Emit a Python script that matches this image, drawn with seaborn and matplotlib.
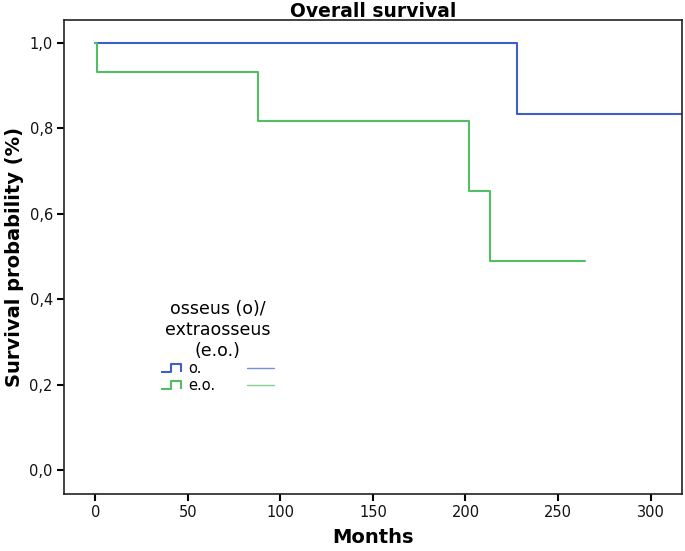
import numpy as np
import pandas as pd
import matplotlib
matplotlib.use("Agg")
import matplotlib.pyplot as plt
from matplotlib.lines import Line2D
from matplotlib.path import Path
import seaborn as sns

# Kaplan-Meier steps
months_o = [0, 228, 317]
surv_o = [1.0, 0.833, 0.833]
months_eo = [0, 1, 88, 202, 213, 264.5]
surv_eo = [1.0, 0.933, 0.817, 0.654, 0.49, 0.49]

groups = ['o.', 'e.o.']
colors = {'o.': '#3f5fc8', 'e.o.': '#52bd62'}
xticks = [0, 50, 100, 150, 200, 250, 300]
yticks = [0.0, 0.2, 0.4, 0.6, 0.8, 1.0]

df = pd.concat([
    pd.DataFrame({'months': months_o, 'surv': surv_o, 'group': 'o.'}),
    pd.DataFrame({'months': months_eo, 'surv': surv_eo, 'group': 'e.o.'}),
], ignore_index=True)

sns.set_style('white')
plt.rcParams['font.family'] = ['DejaVu Sans']
plt.rcParams['text.color'] = 'black'

fig = plt.figure(figsize=(6.85, 5.51), dpi=100)
ax = fig.add_axes([0.0934, 0.1034, 0.9022, 0.8603])

sns.lineplot(data=df, x='months', y='surv', hue='group', palette=colors,
             drawstyle='steps-post', estimator=None, sort=False,
             linewidth=1.5, legend=False, ax=ax)

ax.set_xlim(-17, 317)
ax.set_ylim(-0.056, 1.054)
ax.set_xticks(xticks)
ax.set_yticks(yticks)
ax.set_yticklabels([f'{v:.1f}'.replace('.', ',') for v in yticks])
ax.tick_params(axis='both', direction='out', length=5, width=1.5,
               labelsize=10.5, colors='black', labelcolor='#111111',
               left=True, bottom=True, pad=3)
for sp in ax.spines.values():
    sp.set_color('#222222')
    sp.set_linewidth(1.2)

ax.set_title('Overall survival', fontsize=13.5, fontweight='bold', pad=2,
             color='black')
ax.set_xlabel('Months', fontsize=14, fontweight='bold', labelpad=6,
              color='black')
ax.set_ylabel('Survival probability (%)', fontsize=14, fontweight='bold',
              labelpad=4, color='black')

# legend: step glyph for each group plus a censored-line column
step = Path([(-1, -0.4), (0, -0.4), (0, 0.4), (1, 0.4), (1, -0.4)])
handles = []
for g in groups:
    handles.append(Line2D([], [], linestyle='none', marker=step, markersize=14,
                          markerfacecolor='none', markeredgecolor=colors[g],
                          markeredgewidth=1.5))
for g in groups:
    handles.append(Line2D([], [], color=colors[g], linewidth=1, alpha=0.7))
leg = ax.legend(handles, groups + ['', ''], ncol=2, frameon=False,
                title='osseus (o)/\nextraosseus\n(e.o.)', title_fontsize=12.5,
                fontsize=10.5, loc='upper left', bbox_to_anchor=(0.13, 0.437),
                handlelength=1.8, handletextpad=0.3, columnspacing=2.2,
                labelspacing=0.15)
leg.get_title().set_multialignment('center')
leg.get_title().set_color('black')
leg.get_title().set_linespacing(1.2)
leg._legend_box.sep = 1

fig.savefig('out.png', dpi=100)
